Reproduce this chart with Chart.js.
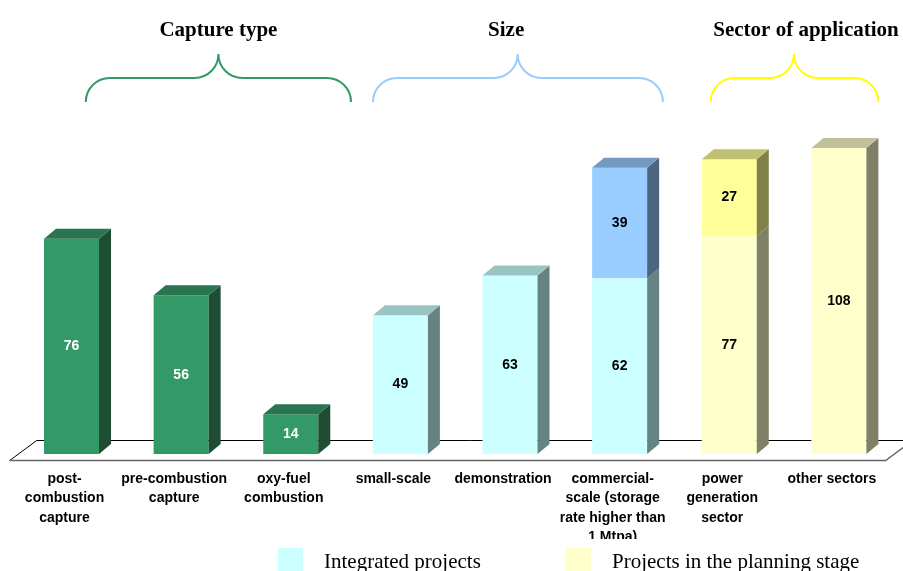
<!DOCTYPE html>
<html>
<head>
<meta charset="utf-8">
<style>
  html, body { margin: 0; padding: 0; background: #fff; }
  canvas { display: block; }
</style>
<script src="https://cdn.jsdelivr.net/npm/chart.js@4.4.1/dist/chart.umd.min.js"></script>
</head>
<body>
<canvas id="ccsChart" width="903" height="571"></canvas>
<script>
const categories = [
  ['post-', 'combustion', 'capture'],
  ['pre-combustion', 'capture'],
  ['oxy-fuel', 'combustion'],
  'small-scale',
  'demonstration',
  ['commercial-', 'scale (storage', 'rate higher than', '1 Mtpa)'],
  ['power', 'generation', 'sector'],
  'other sectors'
]

const captureType = [76, 56, 14, null, null, null, null, null]
const integrated = [null, null, null, 49, 63, 62, null, null]
const commercialExtra = [null, null, null, null, null, 39, null, null]
const planning = [null, null, null, null, null, null, 77, 108]
const powerExtra = [null, null, null, null, null, null, 27, null]

const groupTitles = ['Capture type', 'Size', 'Sector of application']
const legendLabels = ['Integrated projects', 'Projects in the planning stage']

// brace spans in category units (0 = left edge of first category)
const braces = [
  { from: 0.63, peak: 1.84, to: 3.05, title: 1.84, color: '#339966' },
  { from: 3.25, peak: 4.57, to: 5.895, title: 4.465, color: '#99ccff' },
  { from: 6.33, peak: 7.09, to: 7.86, title: 7.2, color: '#ffff00' }
]

const depth = { dx: 12, dy: 10 }

const bars3d = {
  id: 'bars3d',
  beforeDatasetsDraw(chart) {
    const ctx = chart.ctx
    const y0 = chart.scales.y.getPixelForValue(0)
    const left = chart.chartArea.left - 7
    const right = chart.chartArea.right - 8
    ctx.save()
    ctx.lineWidth = 1
    ctx.strokeStyle = '#000'
    ctx.beginPath()
    ctx.moveTo(left, y0 + 6.5)
    ctx.lineTo(left + 27, y0 - 13.5)
    ctx.lineTo(right + 40, y0 - 13.5)
    ctx.stroke()
    ctx.strokeStyle = '#666'
    ctx.lineWidth = 1.5
    ctx.beginPath()
    ctx.moveTo(left, y0 + 6.5)
    ctx.lineTo(right, y0 + 6.5)
    ctx.lineTo(right + 27, y0 - 13.5)
    ctx.stroke()
    ctx.restore()
  },
  afterDatasetsDraw(chart) {
    const ctx = chart.ctx
    const sets = chart.data.datasets
    ctx.save()
    sets.forEach((ds, i) => {
      const meta = chart.getDatasetMeta(i)
      meta.data.forEach((bar, j) => {
        if (ds.data[j] == null) return
        const p = bar.getProps(['x', 'y', 'base', 'width'], true)
        const l = p.x - p.width / 2
        const r = p.x + p.width / 2
        ctx.fillStyle = ds.sideColor
        ctx.beginPath()
        ctx.moveTo(r, p.y)
        ctx.lineTo(r + depth.dx, p.y - depth.dy)
        ctx.lineTo(r + depth.dx, p.base - depth.dy)
        ctx.lineTo(r, p.base)
        ctx.closePath()
        ctx.fill()
        let isTop = true
        for (let k = i + 1; k < sets.length; k++) {
          if (sets[k].data[j] != null) isTop = false
        }
        if (isTop) {
          ctx.fillStyle = ds.topColor
          ctx.beginPath()
          ctx.moveTo(l, p.y)
          ctx.lineTo(l + depth.dx, p.y - depth.dy)
          ctx.lineTo(r + depth.dx, p.y - depth.dy)
          ctx.lineTo(r, p.y)
          ctx.closePath()
          ctx.fill()
        }
      })
    })
    // value labels
    ctx.font = 'bold 14px "Liberation Sans", Arial, sans-serif'
    ctx.textAlign = 'center'
    ctx.textBaseline = 'middle'
    sets.forEach((ds, i) => {
      const meta = chart.getDatasetMeta(i)
      meta.data.forEach((bar, j) => {
        if (ds.data[j] == null) return
        const p = bar.getProps(['x', 'y', 'base'], true)
        ctx.fillStyle = ds.labelColor
        ctx.fillText(ds.data[j], p.x, (p.y + p.base) / 2)
      })
    })
    ctx.restore()
  },
  afterDraw(chart) {
    const ctx = chart.ctx
    const xs = chart.scales.x
    const w = (xs.right - xs.left) / categories.length
    const ux = u => xs.left + u * w
    ctx.save()
    // braces + group titles
    ctx.lineWidth = 2
    const yT = 78, yB = 102, r = 24
    braces.forEach((b, i) => {
      const x0 = ux(b.from), x1 = ux(b.to), xc = ux(b.peak)
      ctx.strokeStyle = b.color
      ctx.beginPath()
      ctx.moveTo(x0, yB)
      ctx.arcTo(x0, yT, x0 + r, yT, r)
      ctx.lineTo(xc - r, yT)
      ctx.arcTo(xc, yT, xc, yT - r, r)
      ctx.arcTo(xc, yT, xc + r, yT, r)
      ctx.lineTo(x1 - r, yT)
      ctx.arcTo(x1, yT, x1, yB, r)
      ctx.stroke()
      ctx.fillStyle = '#000'
      ctx.font = 'bold 21px "Liberation Serif", "Times New Roman", serif'
      ctx.textAlign = 'center'
      ctx.textBaseline = 'alphabetic'
      ctx.fillText(groupTitles[i], ux(b.title), 35.5)
    })
    // legend (covers the clipped last label line, like the original)
    ctx.fillStyle = '#fff'
    ctx.fillRect(270, 539, 633, 32)
    const legendColors = [chart.data.datasets[1].backgroundColor, chart.data.datasets[3].backgroundColor]
    const legendX = [278, 566]
    ctx.font = '21px "Liberation Serif", "Times New Roman", serif'
    ctx.textAlign = 'left'
    legendLabels.forEach((txt, k) => {
      ctx.fillStyle = legendColors[k]
      ctx.fillRect(legendX[k], 548, 25, 24)
      ctx.fillStyle = '#000'
      ctx.fillText(txt, legendX[k] + 46, 568)
    })
    ctx.restore()
  }
}

new Chart(document.getElementById('ccsChart'), {
  type: 'bar',
  data: {
    labels: categories,
    datasets: [
      { label: 'Capture type', data: captureType, backgroundColor: '#339966', topColor: '#2a7550', sideColor: '#1e4d33', labelColor: '#fff' },
      { label: 'Integrated projects', data: integrated, backgroundColor: '#ccffff', topColor: '#99c4c4', sideColor: '#668383', labelColor: '#000' },
      { label: 'Commercial-scale (extra)', data: commercialExtra, backgroundColor: '#99ccff', topColor: '#7399c0', sideColor: '#4d6680', labelColor: '#000' },
      { label: 'Projects in the planning stage', data: planning, backgroundColor: '#ffffcc', topColor: '#c0c09a', sideColor: '#808066', labelColor: '#000' },
      { label: 'Power generation (extra)', data: powerExtra, backgroundColor: '#ffff99', topColor: '#c0c070', sideColor: '#808048', labelColor: '#000' }
    ]
  },
  options: {
    responsive: false,
    animation: false,
    devicePixelRatio: 1,
    categoryPercentage: 1,
    barPercentage: 0.502,
    layout: { padding: { top: 114, left: 16.7, right: 9.3, bottom: 0 } },
    plugins: { legend: { display: false }, tooltip: { enabled: false } },
    scales: {
      x: {
        stacked: true,
        grid: { display: false, drawTicks: false },
        border: { display: false },
        afterFit: s => { s.height = 117 },
        ticks: {
          autoSkip: false,
          maxRotation: 0,
          minRotation: 0,
          padding: 15,
          labelOffset: -7,
          color: '#000',
          font: { family: '"Liberation Sans", Arial, sans-serif', size: 14, weight: 'bold', lineHeight: 1.4 }
        }
      },
      y: {
        stacked: true,
        display: false,
        min: 0,
        max: 120
      }
    }
  },
  plugins: [bars3d]
})
</script>
</body>
</html>
